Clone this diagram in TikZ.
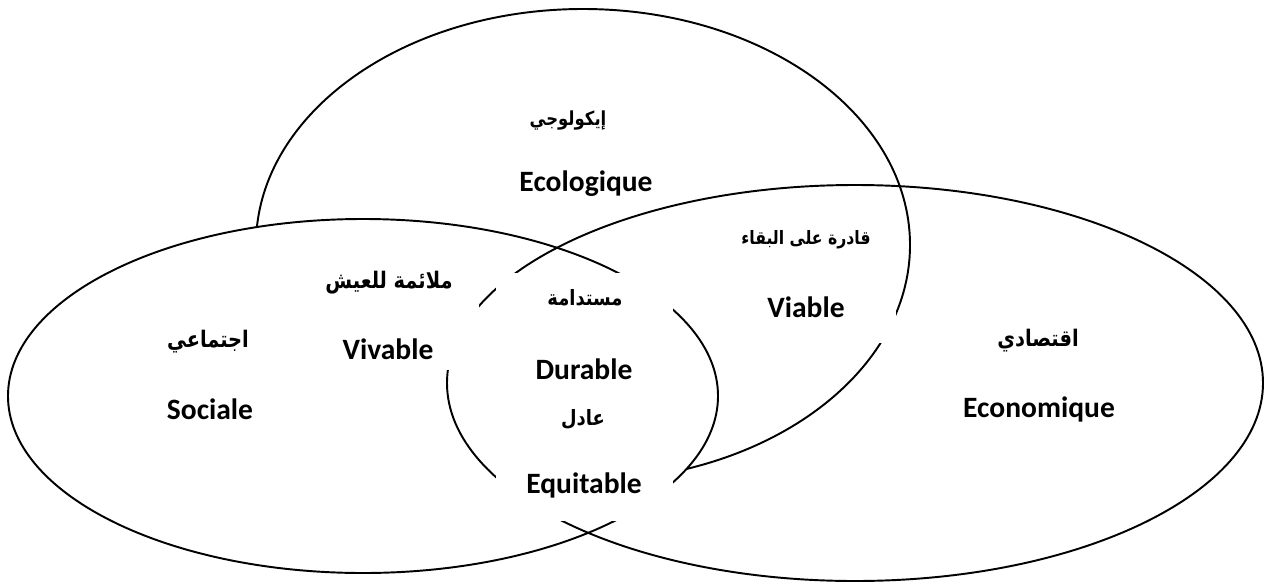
\documentclass[tikz,border=0pt]{standalone}
\usepackage{fontspec}
\setmainfont{Carlito}
\newfontfamily\arabicfont[Script=Arabic, FakeStretch=0.85]{DejaVu Sans}
\TeXXeTstate=1

\begin{document}
\begin{tikzpicture}[x=0.2mm, y=-0.2mm,
    lat/.style={font=\bfseries\fontsize{16.8}{18}\selectfont},
    arab/.style={font=\arabicfont\bfseries\fontsize{13}{16}\selectfont},
    arabsmall/.style={font=\arabicfont\bfseries\fontsize{#1}{14}\selectfont},
    ring/.style={draw, line width=1.1pt},
    cover/.style={fill=white}]
  \useasboundingbox (0,0) rectangle (1264,585);

  % the three spheres
  \draw[ring] (583,245) ellipse [x radius=65.4mm, y radius=47.2mm];
  \draw[ring, fill=white] (363,396) ellipse [x radius=71mm, y radius=35.4mm];
  \draw[ring] (855,383) ellipse [x radius=81.6mm, y radius=39.6mm];

  % white text boxes over the outlines
  \fill[cover] (300,255) rectangle (479,370);
  \fill[cover] (496,273) rectangle (673,521);
  \fill[cover] (740,225) rectangle (896,343);

  \node[arabsmall=11] (ecoAr) at (568,121) {\beginR إيكولوجي\endR};
  \node[lat]  (eco)   at (586,184) {Ecologique};

  \node[arab] (vivAr) at (389,283) {\beginR ملائمة للعيش\endR};
  \node[lat]  (viv)   at (388,349) {Vivable};

  \node[arab] (socAr) at (208,342) {\beginR اجتماعي\endR};
  \node[lat]  (soc)   at (210,409) {Sociale};

  \node[arabsmall=12] (durAr) at (585,298) {\beginR مستدامة\endR};
  \node[lat]  (dur)   at (584,369) {Durable};
  \node[arabsmall=12] (equAr) at (583,419) {\beginR عادل\endR};
  \node[lat]  (equ)   at (584,485) {Equitable};

  \node[arabsmall=10.5] (viaAr) at (806,240) {\beginR قادرة على البقاء\endR};
  \node[lat]  (via)   at (806,307) {Viable};

  \node[arab] (ecnAr) at (1038,341) {\beginR اقتصادي\endR};
  \node[lat]  (ecn)   at (1039,409) {Economique};
\end{tikzpicture}
\end{document}
